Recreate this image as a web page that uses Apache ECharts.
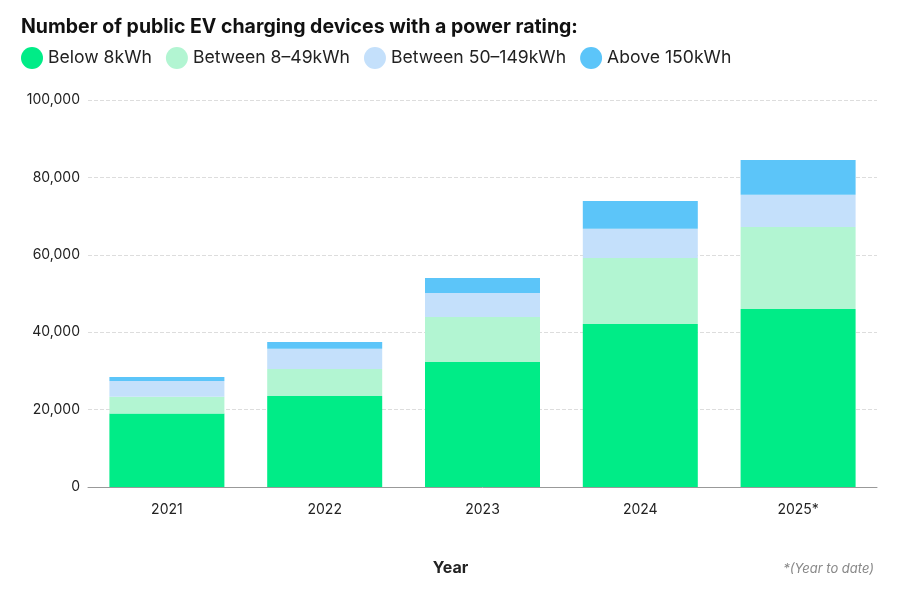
<!DOCTYPE html><html><head><meta charset="utf-8"><script src="https://cdn.jsdelivr.net/npm/echarts@6/dist/echarts.min.js"></script>
<style>body{margin:0}#c{width:901px;height:593px}</style></head><body><div id="c"></div><script>
const categories=['2021','2022','2023','2024','2025*'];
const below8=[19000,23500,32300,42100,46000];
const b8to49=[4300,7000,11600,17100,21200];
const b50to149=[4100,5200,6200,7500,8300];
const above150=[1000,1800,3900,7200,9000];
const yTicks=[0,20000,40000,60000,80000,100000];
const names=['Below 8kWh','Between 8–49kWh','Between 50–149kWh','Above 150kWh'];
const colors=['#00EC87','#B2F5D2','#C4E0FB','#5CC5F9'];
const vals=[below8,b8to49,b50to149,above150];
const ch=echarts.init(document.getElementById('c'));
ch.setOption({
 textStyle:{fontFamily:'Inter'},
 title:[{text:'Number of public EV charging devices with a power rating:',left:16,top:12,textStyle:{fontSize:19.5,fontWeight:'bold',color:'#111',fontFamily:'Inter'}},
  {text:'Year',left:'center',top:555,textStyle:{fontSize:16,fontWeight:'bold',color:'#222'}},
  {text:'*(Year to date)',right:22,top:558,textStyle:{fontSize:13,fontStyle:'italic',fontWeight:'normal',color:'#888'}}],
 legend:{left:16,top:42,icon:'circle',itemWidth:22,itemHeight:22,itemGap:14,textStyle:{fontSize:17.6,color:'#222'},data:names},
 grid:{left:88,right:24,top:100,bottom:106},
 xAxis:{type:'category',data:categories,axisTick:{show:false},axisLine:{lineStyle:{color:'#999'}},axisLabel:{fontSize:14,color:'#222',margin:16}},
 yAxis:{type:'value',min:0,max:100000,interval:20000,axisLabel:{fontSize:14,color:'#222',formatter:v=>yTicks.includes(v)?v.toLocaleString('en-US'):''},splitLine:{lineStyle:{type:'dashed',color:'#ddd'}}},
 series:vals.map((d,i)=>({name:names[i],type:'bar',stack:'a',data:d,barWidth:115,itemStyle:{color:colors[i]}}))
});
</script></body></html>
